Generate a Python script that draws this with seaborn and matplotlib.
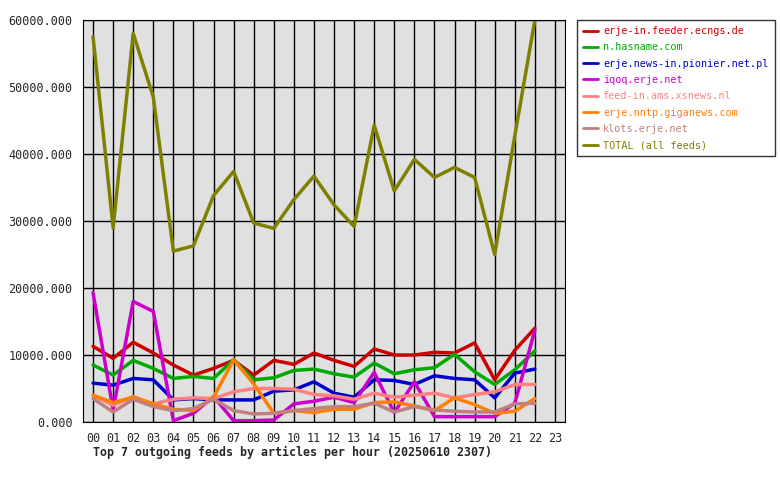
import matplotlib
matplotlib.use("Agg")
import matplotlib.pyplot as plt
import seaborn as sns
import pandas as pd

hours = [f"{h:02d}" for h in range(24)]
names = ["erje-in.feeder.ecngs.de", "n.hasname.com", "erje.news-in.pionier.net.pl",
         "iqoq.erje.net", "feed-in.ams.xsnews.nl", "erje.nntp.giganews.com",
         "klots.erje.net", "TOTAL (all feeds)"]
colors = ["#cc0000", "#00aa00", "#0000cc", "#cc00cc", "#ff8080", "#ff8000", "#c08080", "#808000"]
red = [11300, 9500, 11900, 10300, 8500, 7000, 8000, 9200, 7000, 9200, 8600, 10300, 9200, 8300, 10900, 10000, 10000, 10400, 10300, 11800, 6300, 10700, 14000]
green = [8500, 7000, 9200, 8000, 6500, 6800, 6500, 9300, 6300, 6600, 7700, 7900, 7200, 6700, 8800, 7200, 7800, 8100, 10100, 7500, 5600, 7800, 10600]
blue = [5800, 5500, 6500, 6300, 3300, 3500, 3300, 3300, 3300, 4600, 4800, 6000, 4300, 3700, 6300, 6200, 5600, 6900, 6500, 6300, 3600, 7300, 7900]
magenta = [19300, 1800, 18000, 16500, 200, 1300, 3800, 200, 200, 300, 2700, 3100, 3700, 2900, 7400, 1400, 6000, 800, 800, 800, 800, 2800, 13700]
pink = [4000, 2500, 3800, 2700, 3400, 3600, 3500, 4500, 5000, 5000, 4900, 4100, 3900, 3400, 4300, 3700, 4000, 4300, 3600, 4100, 4500, 5600, 5600]
orange = [4000, 2900, 3700, 2700, 1900, 1700, 3700, 9300, 5700, 1300, 1700, 1400, 1900, 1900, 2900, 3000, 2400, 1700, 3600, 2600, 1300, 1600, 3500]
rosy = [3500, 1500, 3400, 2300, 1700, 2000, 3400, 1700, 1200, 1300, 1700, 2000, 2300, 2300, 2800, 1500, 2300, 1800, 1600, 1500, 1500, 2700, 2800]
total = [57500, 29000, 58000, 48500, 25500, 26300, 33800, 37400, 29700, 28900, 33200, 36700, 32400, 29200, 44300, 34500, 39200, 36500, 38000, 36500, 25000, 42700, 60000]
series = [red, green, blue, magenta, pink, orange, rosy, total]

rows = []
for n, vals in zip(names, series):
    for i, v in enumerate(vals):
        rows.append({"hour": i, "feed": n, "articles": v})
df = pd.DataFrame(rows)

sns.set_style("white")
plt.rcParams["font.family"] = ["DejaVu Sans Mono"]
fig = plt.figure(figsize=(7.8, 4.8), dpi=100)
ax = fig.add_axes([83/780, 58/480, 482/780, 402/480])
ax.set_facecolor("#e0e0e0")
sns.lineplot(data=df, x="hour", y="articles", hue="feed", hue_order=names,
             palette=colors, linewidth=2.5, ax=ax, legend=True)
ax.set_xlim(-0.5, 23.5)
ax.set_ylim(0, 60000)
ax.set_xticks(range(24))
ax.set_xticklabels(hours, fontsize=8.5)
ax.set_yticks(range(0, 60001, 10000))
ax.set_yticklabels([f"{v}.000" for v in range(0, 60001, 10000)], fontsize=8.5)
ax.grid(True, color="black", linewidth=1)
ax.set_axisbelow(True)
for s in ax.spines.values():
    s.set_color("black")
ax.tick_params(axis="both", length=4, color="black", direction="out")
ax.set_xlabel("")
ax.set_ylabel("")
leg = ax.legend(loc="upper left", bbox_to_anchor=(577/780, 460/480), bbox_transform=fig.transFigure,
                fontsize=7.3, frameon=True, fancybox=False, edgecolor="black",
                handlelength=1.5, handletextpad=0.5, borderpad=0.6, labelspacing=0.62,
                borderaxespad=0)
for t, c in zip(leg.get_texts(), colors):
    t.set_color(c)
for l in leg.get_lines():
    l.set_linewidth(2)
fig.text(93/780, 1 - 452/480, "Top 7 outgoing feeds by articles per hour (20250610 2307)",
         fontsize=8.4, fontweight="bold", va="center")
fig.savefig("out.png", dpi=100)
